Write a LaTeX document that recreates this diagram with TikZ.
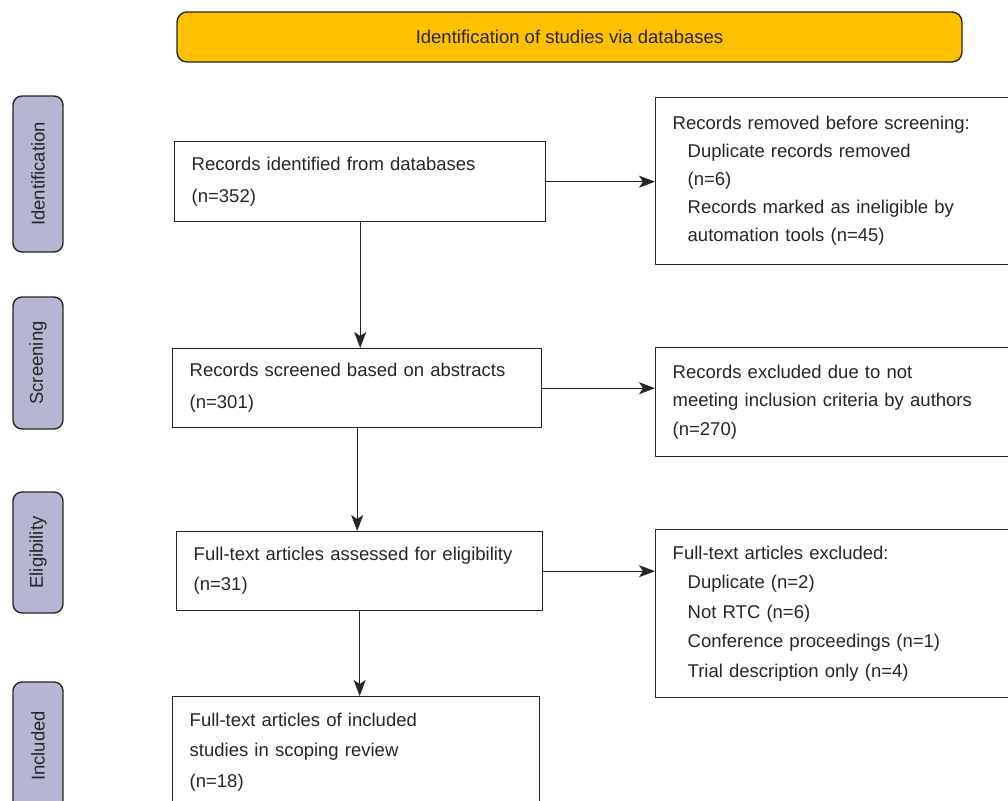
\documentclass[tikz,border=0pt]{standalone}
\usepackage{fontspec}
\setmainfont{Liberation Sans}
\usetikzlibrary{arrows.meta}
\definecolor{bannerorange}{RGB}{255,192,0}
\definecolor{phaselilac}{RGB}{181,183,210}
\definecolor{inkgray}{RGB}{38,38,38}
\begin{document}
\begin{tikzpicture}[
x=1pt, y=-1pt,
every node/.style={text=inkgray},
box/.style={
draw=inkgray,
line width=1.4pt,
align=left,
anchor=north west,
font=\fontsize{18.5}{29}\selectfont,
inner xsep=17pt,
inner ysep=0pt
},
phase/.style={
draw=inkgray,
line width=1.4pt,
fill=phaselilac,
rounded corners=9pt,
rotate=90,
minimum height=50pt,
font=\fontsize{18.5}{22}\selectfont
},
banner/.style={
draw=inkgray,
line width=1.4pt,
fill=bannerorange,
rounded corners=10pt,
minimum width=785pt,
minimum height=50pt,
font=\fontsize{18.5}{22}\selectfont
},
arrow/.style={-{Stealth[length=16pt,width=12pt,inset=4pt]}, line width=1.4pt, draw=inkgray}
]
\useasboundingbox (0,0) rectangle (1008,800);
\node[banner] (title) at (569.5,37)
{Identification of studies via databases};
\node[phase,minimum width=156pt] (identification) at (38,174) {Identification};
\node[phase,minimum width=132pt] (screening) at (38,363) {Screening};
\node[phase,minimum width=121pt] (eligibility) at (38,552.5) {Eligibility};
\node[phase,minimum width=128pt] (includedtag) at (38,746) {Included};
\node[box,text width=337pt,minimum height=80pt,font=\fontsize{18.5}{32}\selectfont] (records) at (174,141)
{Records identified from databases\\
(n=352)};
\node[box,text width=326pt,minimum height=167pt,font=\fontsize{18.5}{28}\selectfont] (removed) at (655,97)
{Records removed before screening:\\
\hspace*{15pt}Duplicate records removed\\
\hspace*{15pt}(n=6)\\
\hspace*{15pt}Records marked as ineligible by\\
\hspace*{15pt}automation tools (n=45)};
\node[box,text width=335pt,minimum height=79pt,font=\fontsize{18.5}{32}\selectfont] (screened) at (172,348)
{Records screened based on abstracts\\
(n=301)};
\node[box,text width=326pt,minimum height=109pt,font=\fontsize{18.5}{28.5}\selectfont] (excluded) at (655,347)
{Records excluded due to not\\
meeting inclusion criteria by authors\\
(n=270)};
\node[box,text width=332pt,minimum height=79pt,font=\fontsize{18.5}{30}\selectfont] (assessed) at (176,531)
{Full-text articles assessed for eligibility\\
(n=31)};
\node[box,text width=326pt,minimum height=168pt,font=\fontsize{18.5}{29.5}\selectfont] (fulltextout) at (655,529)
{Full-text articles excluded:\\
\hspace*{15pt}Duplicate (n=2)\\
\hspace*{15pt}Not RTC (n=6)\\
\hspace*{15pt}Conference proceedings (n=1)\\
\hspace*{15pt}Trial description only (n=4)};
\node[box,text width=333pt,minimum height=111pt,font=\fontsize{18.5}{30.5}\selectfont] (included) at (172,696)
{Full-text articles of included\\
studies in scoping review\\
(n=18)};
\draw[arrow] (records.south) -- (records.south |- screened.north);
\draw[arrow] (records.east) -- (records.east -| removed.west);
\draw[arrow] (screened.south) -- (screened.south |- assessed.north);
\draw[arrow] (screened.east) -- (screened.east -| excluded.west);
\draw[arrow] (assessed.south) -- (assessed.south |- included.north);
\draw[arrow] (assessed.east) -- (assessed.east -| fulltextout.west);
\end{tikzpicture}
\end{document}
